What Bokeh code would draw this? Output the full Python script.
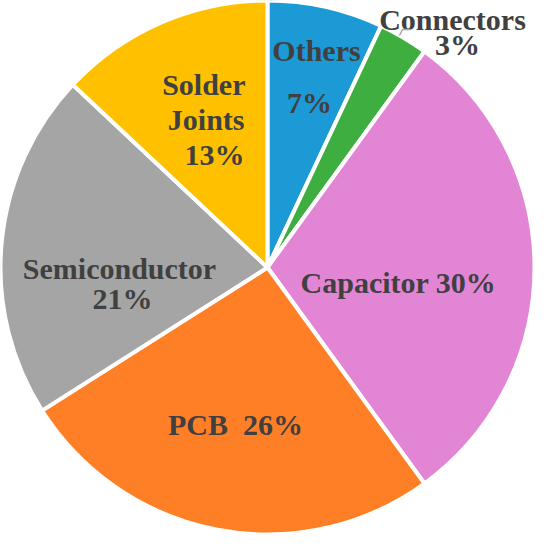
import math
from bokeh.plotting import figure
from bokeh.models import Range1d
from bokeh.core.properties import value
from bokeh.embed import file_html
from bokeh.resources import INLINE

# Data (clockwise from 12 o'clock)
categories = ["Others", "Connectors", "Capacitor", "PCB", "Semiconductor", "Solder Joints"]
shares = [7, 3, 30, 26, 21, 13]
colors = ["#1C9AD6", "#3DAE3F", "#E385D5", "#FF7F27", "#A5A5A5", "#FFC000"]

W = H = 534
p = figure(width=W, height=H, output_backend="svg", toolbar_location=None,
           x_range=Range1d(0, W), y_range=Range1d(0, H), min_border=0)
p.axis.visible = False
p.grid.visible = False
p.outline_line_color = None
p.background_fill_color = "white"
p.border_fill_color = "white"

cx, cy, r = 267, 267, 267
total = sum(shares)
acc = 0
starts, ends = [], []
for s in shares:
    a0 = math.pi / 2 - 2 * math.pi * acc / total
    acc += s
    a1 = math.pi / 2 - 2 * math.pi * acc / total
    starts.append(a0)
    ends.append(a1)

p.wedge(x=[cx] * len(shares), y=[cy] * len(shares), radius=r,
        start_angle=starts, end_angle=ends, direction="clock",
        fill_color=colors, line_color="white", line_width=4)

def px(x):
    return x - 8

def py(y):
    return 542 - y

font = value("Liberation Serif")
tc = "#404040"
fs = "30px"

def label(x, y, t, align="center"):
    p.text(x=[px(x)], y=[py(y)], text=[t], text_font=font, text_font_size=fs,
           text_font_style="bold", text_color=tc, text_align=align,
           text_baseline="alphabetic")

lab = {c: f"{v}%" for c, v in zip(categories, shares)}

label(324, 58, "Others")
label(317, 110, lab["Others"])
label(460, 27, "Connectors")
label(465, 52, lab["Connectors"])
label(406, 290, "Capacitor " + lab["Capacitor"])
label(243, 432, "PCB\u00a0\u00a0" + lab["PCB"])
label(127, 276, "Semiconductor")
label(130, 306, lab["Semiconductor"])
label(253, 92, "Solder", "right")
label(252, 127, "Joints", "right")
label(252, 162, lab["Solder Joints"], "right")

# leader line for Connectors
p.line(x=[px(407), px(410), px(418)], y=[py(43), py(37), py(37)],
       line_color="#A5A5A5", line_width=1.5)

open("out.html", "w").write(file_html(p, INLINE))
